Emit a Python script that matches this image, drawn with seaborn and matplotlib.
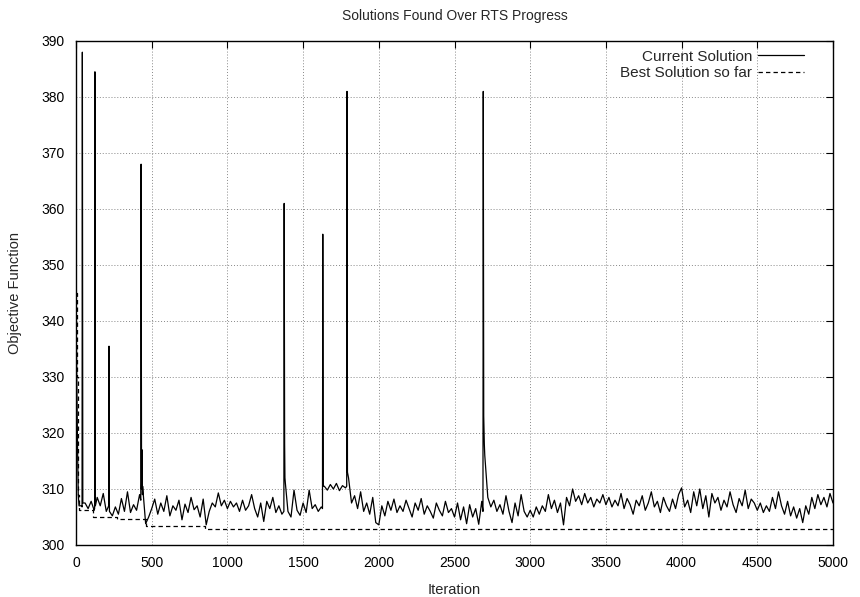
import numpy as np
import pandas as pd
import matplotlib
matplotlib.use("Agg")
import matplotlib.pyplot as plt
import seaborn as sns

# ---------------- data ----------------
# current solution sampled every 20 iterations (0..5000)
grid_step = 20
cur_0000 = [345.0, 307.0, 306.8, 307.5, 306.5, 307.8, 306.2, 308.5, 307.0, 309.2,
            306.0, 308.0, 305.2, 306.8, 305.5, 308.3, 306.0, 309.5, 305.8, 307.2,
            306.2, 309.0, 310.5, 303.8, 305.0]
cur_0500 = [306.5, 308.2, 305.5, 307.5, 306.0, 308.8, 305.2, 307.0, 306.2, 308.0,
            304.5, 307.3, 305.8, 308.5, 306.3, 307.0, 305.0, 308.2, 303.6, 306.0,
            307.5, 306.8, 309.3, 307.0, 308.0]
cur_1000 = [306.5, 307.8, 306.8, 307.5, 306.0, 308.0, 306.2, 307.0, 309.0, 306.5,
            305.0, 307.5, 304.2, 307.8, 306.5, 308.5, 305.8, 307.0, 305.5, 312.0,
            306.0, 305.0, 309.8, 306.2, 305.3]
cur_1500 = [307.5, 305.8, 309.8, 306.5, 307.2, 306.0, 306.8, 310.5, 309.8, 310.8,
            310.0, 311.0, 309.7, 310.6, 310.2, 312.0, 307.5, 308.8, 306.5, 309.5,
            306.0, 307.5, 305.5, 308.5, 304.0]
cur_2000 = [303.6, 307.0, 305.2, 307.8, 306.2, 308.2, 305.8, 307.0, 306.0, 308.0,
            306.5, 305.0, 307.5, 306.2, 308.3, 305.5, 307.0, 306.0, 304.8, 307.5,
            306.2, 305.2, 307.8, 305.8, 306.5]
cur_2500 = [305.0, 307.5, 304.5, 306.8, 303.8, 307.2, 305.0, 306.5, 303.7, 307.8,
            316.0, 308.5, 306.8, 308.0, 306.0, 307.2, 305.5, 308.8, 306.0, 304.0,
            307.5, 305.2, 309.0, 306.0, 305.0]
cur_3000 = [306.2, 305.0, 306.8, 305.5, 307.0, 306.0, 309.0, 306.5, 308.0, 305.8,
            307.5, 303.6, 308.5, 307.0, 310.0, 307.8, 308.8, 307.2, 309.2, 307.5,
            308.5, 306.8, 308.2, 307.5, 309.0]
cur_3500 = [307.2, 308.5, 306.8, 308.0, 307.0, 309.2, 306.5, 308.3, 307.2, 305.5,
            308.0, 307.0, 308.8, 306.2, 307.5, 309.5, 306.8, 307.8, 305.8, 308.5,
            307.0, 306.0, 308.2, 306.5, 309.0]
cur_4000 = [310.2, 306.8, 308.0, 305.8, 309.5, 307.0, 310.0, 306.5, 308.8, 305.0,
            309.2, 307.5, 308.5, 306.2, 308.0, 306.8, 309.5, 307.2, 305.8, 308.3,
            307.0, 309.8, 306.5, 308.2, 307.5]
cur_4500 = [306.2, 307.5, 305.8, 307.0, 306.0, 308.5, 306.5, 309.5, 307.0, 305.5,
            307.8, 305.2, 306.8, 304.8, 306.5, 304.0, 307.0, 305.5, 308.5, 306.5,
            309.0, 307.2, 308.5, 306.8, 309.2, 307.5]

# extra readings: initial descent and the sharp spikes
extra_iters = [5, 10, 15,
               38, 42, 45,
               123, 125, 128,
               216, 218, 221,
               428, 430, 433, 436, 439,
               1373, 1375, 1378, 1383,
               1628, 1630, 1633,
               1788, 1790, 1793,
               2688, 2690, 2693, 2697]
extra_vals = [330.0, 318.0, 309.0,
              307.0, 388.0, 307.5,
              306.5, 384.5, 307.0,
              307.0, 335.5, 306.0,
              308.0, 368.0, 310.0, 317.0, 309.0,
              306.0, 361.0, 318.0, 311.0,
              306.5, 355.5, 310.5,
              310.5, 381.0, 313.0,
              306.0, 381.0, 323.0, 318.0]

# best solution so far (step changes)
best_iters = [0, 5, 10, 15, 20, 110, 270, 465, 855, 5000]
best_vals = [345.0, 330.0, 318.0, 309.0, 306.3, 305.0, 304.6, 303.4, 302.9, 302.9]

xticks = [0, 500, 1000, 1500, 2000, 2500, 3000, 3500, 4000, 4500, 5000]
yticks = [300, 310, 320, 330, 340, 350, 360, 370, 380, 390]

# ---------------- assemble ----------------
grid_vals = (cur_0000 + cur_0500 + cur_1000 + cur_1500 + cur_2000 +
             cur_2500 + cur_3000 + cur_3500 + cur_4000 + cur_4500)
grid_iters = list(range(0, 5001, grid_step))
it = np.array(grid_iters + extra_iters, dtype=float)
val = np.array(grid_vals + extra_vals, dtype=float)
order = np.argsort(it, kind="stable")
cur = pd.DataFrame({"Iteration": it[order], "Objective": val[order]})
best = pd.DataFrame({"Iteration": best_iters, "Objective": best_vals})

# ---------------- style ----------------
sns.set_theme(style="white")
plt.rcParams["font.family"] = ["Liberation Sans", "DejaVu Sans"]

fig = plt.figure(figsize=(8.6, 5.97), dpi=100)
ax = fig.add_axes([76 / 860, 52 / 597, (833 - 76) / 860, (545 - 41) / 597])

sns.lineplot(data=cur, x="Iteration", y="Objective", ax=ax, color="black",
             lw=0.9, label="Current Solution", estimator=None, sort=False)
sns.lineplot(data=best, x="Iteration", y="Objective", ax=ax, color="black",
             lw=0.9, label="Best Solution so far", estimator=None, sort=False,
             drawstyle="steps-post")
ax.lines[-1].set_dashes([3.5, 2.5])

ax.set_xlim(0, 5000)
ax.set_ylim(300, 390)
ax.set_xticks(xticks)
ax.set_yticks(yticks)
ax.tick_params(direction="in", top=True, right=True, length=5, width=0.8,
               labelsize=10, colors="black", pad=8)
ax.grid(True, linestyle=(0, (1, 2)), color="#888888", linewidth=0.7)
for s in ax.spines.values():
    s.set_color("black")
    s.set_linewidth(1.0)

ax.set_xlabel("Iteration", fontsize=10.5, labelpad=9)
ax.set_ylabel("Objective Function", fontsize=10.5, labelpad=14)
ax.set_title("Solutions Found Over RTS Progress", fontsize=10, pad=15)

leg = ax.legend(loc="upper right", frameon=False, markerfirst=False,
                handlelength=3.0, fontsize=11, labelspacing=0.15,
                bbox_to_anchor=(0.97, 0.995), borderaxespad=0, handletextpad=0.4)

fig.savefig("out.png", dpi=100)
